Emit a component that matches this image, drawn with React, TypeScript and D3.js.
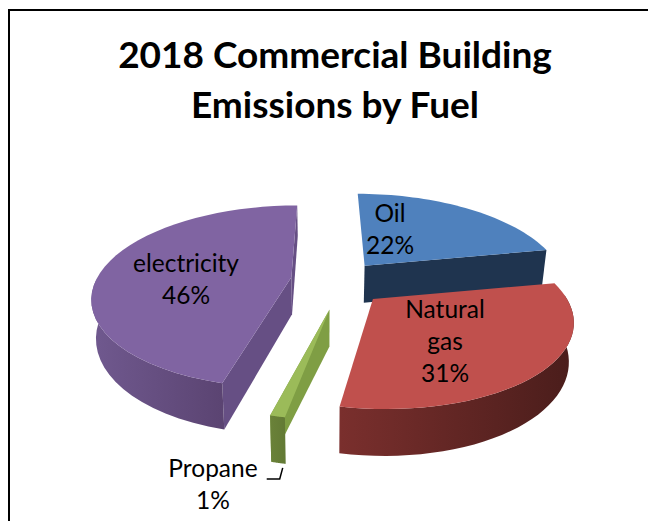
import React from "react";
import * as d3 from "d3";

const fuels = ["Oil", "Natural gas", "Propane", "electricity"];
const shares = [22, 31, 1, 46];

const labelLines = [["Oil", "22%"], ["Natural", "gas", "31%"], ["Propane", "1%"], ["electricity", "46%"]];
const labelSpots = [[390, 222], [445, 318], [213, 477], [186, 272]];

const topColors = ["#4f81bd", "#c0504d", "#9bbb59", "#8064a2"];
const cutColors = ["#1f344f", "#5a2422", "#7f9e44", "#664f84"];
const wallColors = [
  ["#1f344f", "#1f344f"],
  ["#7a2f2d", "#4a1d1b"],
  ["#6a8239", "#637a35"],
  ["#70598f", "#5b4472"],
];
const drawOrder = [0, 3, 2, 1];

const W = 648;
const H = 521;
const cx = 337;
const cy = 283;
const vanishX = 325;
const rx = 194;
const ry = 87;
const tilt = 0.21;
const explode = 48;
const squash = 0.44;
const depth = 37;
const converge = 0.98;
// hand fitted, the original's explosion is not quite even
const nudges = [[-3, -1], [2, 1], [3, 6], [2, -3]];

type Pt = [number, number];

const persp = (t: number) => 1 / (1 + tilt * Math.cos(t));

export default function App() {
  const arcs = d3.pie<number>().sort(null)(shares);
  const line = d3.line();

  const slices = arcs.map((a, i) => {
    const mid = (a.startAngle + a.endAngle) / 2;
    const ox = cx + explode * Math.sin(mid) + nudges[i][0];
    const oy = cy - explode * squash * Math.cos(mid) + nudges[i][1];
    const rim = (t: number): Pt => [
      vanishX + (ox + rx * Math.sin(t) - vanishX) * persp(t),
      oy - ry * Math.cos(t) * persp(t),
    ];
    const down = (p: Pt, t: number): Pt => [
      vanishX + (p[0] - vanishX) * converge,
      p[1] + depth * persp(t),
    ];
    const ts = d3.range(0, 41).map((k) => a.startAngle + ((a.endAngle - a.startAngle) * k) / 40);
    const apex: Pt = [ox, oy];
    const apexDown = down(apex, Math.PI / 2);
    const rimPts = ts.map(rim);
    const top = line([apex, ...rimPts])! + "Z";
    const frontTs = ts.filter((t) => Math.cos(t) < 0.05);
    const wall = frontTs.length
      ? line([...frontTs.map(rim), ...frontTs.slice().reverse().map((t) => down(rim(t), t))])! + "Z"
      : "";
    const endWall = line([apex, rim(a.endAngle), down(rim(a.endAngle), a.endAngle), apexDown])! + "Z";
    const startWall = line([apex, rim(a.startAngle), down(rim(a.startAngle), a.startAngle), apexDown])! + "Z";
    const xs = frontTs.map((t) => rim(t)[0]);
    return { i, top, wall, endWall, startWall, x0: d3.min(xs) ?? 0, x1: d3.max(xs) ?? 1, corner: down(rim(a.startAngle), a.startAngle) };
  });

  const propane = slices[2];
  const leader = line([
    [propane.corner[0] - 19, propane.corner[1] + 15],
    [propane.corner[0] - 6, propane.corner[1] + 15],
    [propane.corner[0] - 3, propane.corner[1] + 4],
  ]);

  return (
    <svg
      width={W}
      height={H}
      style={{ position: "absolute", left: 0, top: 0, fontFamily: "Lato, 'Open Sans', sans-serif" }}
    >
      <rect width={W} height={H} fill="#fff" />
      <path d={`M9 ${H}V10H${W}`} fill="none" stroke="#000" strokeWidth={2} />
      <g textAnchor="middle" fontWeight={700} fontSize={37} fill="#000">
        <text x={335} y={68}>2018 Commercial Building</text>
        <text x={335} y={118}>Emissions by Fuel</text>
      </g>
      <defs>
        {slices.map((s) => (
          <linearGradient
            key={s.i}
            id={`wall${s.i}`}
            gradientUnits="userSpaceOnUse"
            x1={s.x0}
            x2={s.x1}
            y1={0}
            y2={0}
          >
            <stop offset="0" stopColor={wallColors[s.i][0]} />
            <stop offset="1" stopColor={wallColors[s.i][1]} />
          </linearGradient>
        ))}
      </defs>
      {drawOrder.map((i) => {
        const s = slices[i];
        return (
          <g key={fuels[i]}>
            {i === 3 && <path d={s.startWall} fill={cutColors[i]} />}
            {i !== 1 && <path d={s.endWall} fill={cutColors[i]} />}
            {s.wall && <path d={s.wall} fill={`url(#wall${i})`} />}
            <path d={s.top} fill={topColors[i]} />
          </g>
        );
      })}
      <path d={leader!} fill="none" stroke="#000" strokeWidth={1.5} />
      <g textAnchor="middle" fontSize={24.5} fill="#000">
        {labelLines.map((lines, i) => (
          <text key={fuels[i]} x={labelSpots[i][0]} y={labelSpots[i][1]}>
            {lines.map((t, k) => (
              <tspan key={t} x={labelSpots[i][0]} dy={k === 0 ? 0 : 32}>
                {t}
              </tspan>
            ))}
          </text>
        ))}
      </g>
    </svg>
  );
}
